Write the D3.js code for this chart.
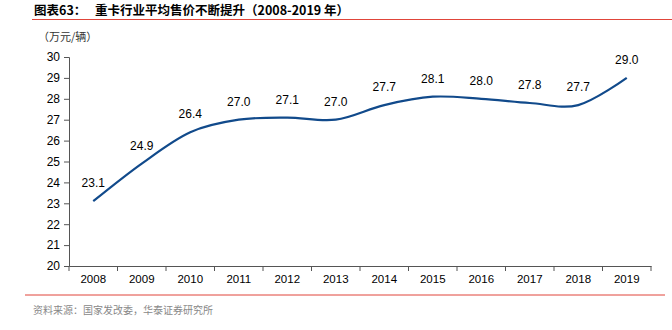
<!DOCTYPE html>
<html><head><meta charset="utf-8">
<script src="https://cdn.jsdelivr.net/npm/d3@7"></script>
<style>
body{margin:0;background:#fff;}
svg text{font-family:"Liberation Sans",Arial,sans-serif;}
.cjk{font-family:"Noto Sans CJK SC","Liberation Sans",sans-serif;}
</style></head>
<body><svg id="c" width="672" height="330"></svg>
<script>
const years = ["2008","2009","2010","2011","2012","2013","2014","2015","2016","2017","2018","2019"];
const prices = [23.1,24.9,26.4,27.0,27.1,27.0,27.7,28.1,28.0,27.8,27.7,29.0];
const yTicks = [20,21,22,23,24,25,26,27,28,29,30];
const titleHead = "图表63：";
const titleText = "重卡行业平均售价不断提升（2008-2019 年）";
const unitText = "（万元/辆）";
const sourceText = "资料来源：国家发改委，华泰证券研究所";

(function(){
const svg = d3.select("#c");
const mL = 69, mR = 651, mT = 57, mB = 266;
const x = d3.scaleBand().domain(years).range([mL, mR]);
const y = d3.scaleLinear().domain([20,30]).range([mB, mT]);

// title
svg.append("text").attr("class","cjk").attr("x",34).attr("y",15)
  .attr("font-size",12.5).attr("font-weight","bold").attr("fill","#000").text(titleHead);
svg.append("text").attr("class","cjk").attr("x",95).attr("y",15)
  .attr("font-size",12.5).attr("font-weight","bold").attr("fill","#000").text(titleText);
svg.append("line").attr("x1",32).attr("x2",672).attr("y1",19.5).attr("y2",19.5)
  .attr("stroke","#e0453a").attr("stroke-width",1);
svg.append("text").attr("class","cjk").attr("x",38).attr("y",41)
  .attr("font-size",11).attr("fill","#333").text(unitText);

// y axis
const ya = svg.append("g").attr("transform",`translate(${mL},0)`)
  .call(d3.axisLeft(y).tickValues(yTicks).tickSize(5).tickPadding(4).tickFormat(d3.format("d")));
ya.select(".domain").attr("stroke","#555");
ya.selectAll(".tick line").attr("stroke","#555");
ya.selectAll("text").attr("font-size",12).attr("fill","#000").attr("font-family","Liberation Sans, Arial, sans-serif");

// x axis
const xa = svg.append("g").attr("transform",`translate(0,${mB})`)
  .call(d3.axisBottom(x).tickSize(0).tickPadding(9));
xa.select(".domain").attr("stroke","#555");
xa.selectAll("text").attr("font-size",11.5).attr("fill","#000").attr("font-family","Liberation Sans, Arial, sans-serif");
const bounds = years.map(d=>x(d)).concat([x.range()[1]]);
svg.append("g").selectAll("line").data(bounds).join("line")
  .attr("x1",d=>d).attr("x2",d=>d).attr("y1",mB).attr("y2",mB+5).attr("stroke","#555");

// line
const cx = d => x(d) + x.bandwidth()/2;
const line = d3.line().x((d,i)=>cx(years[i])).y(d=>y(d)).curve(d3.curveCardinal.tension(0));
svg.append("path").datum(prices).attr("d",line).attr("fill","none")
  .attr("stroke","#114a8b").attr("stroke-width",2.2);

// labels
svg.append("g").selectAll("text").data(prices).join("text")
  .attr("x",(d,i)=>cx(years[i])).attr("y",d=>y(d)-14)
  .attr("text-anchor","middle").attr("font-size",12).attr("fill","#000")
  .text(d=>d.toFixed(1));

// source
svg.append("line").attr("x1",25).attr("x2",665).attr("y1",295).attr("y2",295)
  .attr("stroke","#e0453a").attr("stroke-width",1);
svg.append("text").attr("class","cjk").attr("x",33).attr("y",314)
  .attr("font-size",10).attr("fill","#888").text(sourceText);
})();
</script></body></html>
